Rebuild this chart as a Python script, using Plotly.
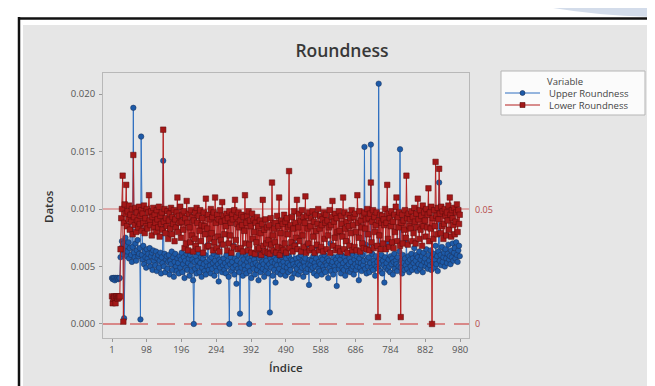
import plotly.graph_objects as go

# ---------------- data ----------------
title_text = "Roundness"
x_title = "Índice"
y_title = "Datos"
legend_title = "Variable"
series_names = ["Upper Roundness", "Lower Roundness"]

x_tick_vals = [1, 98, 196, 294, 392, 490, 588, 686, 784, 882, 980]
y_tick_vals = [0.000, 0.005, 0.010, 0.015, 0.020]
ref_values = [0.010, 0.0]
ref_labels = ["0.05", "0"]

indice = list(range(1, 981, 2))

# Upper Roundness, in units of 0.0001
upper_e4 = [
    40, 39, 40, 40, 38, 40, 39, 40, 40, 39, 40, 40, 58, 66, 72, 61, 70, 5, 64, 75,
    68, 59, 63, 71, 57, 66, 92, 60, 54, 67, 188, 62, 58, 70, 55, 64, 73, 59, 61, 66,
    4, 163, 60, 56, 68, 52, 63, 58, 49, 65, 57, 61, 54, 66, 50, 59, 62, 47, 64, 55,
    58, 51, 63, 46, 57, 60, 49, 55, 62, 44, 58, 53, 142, 50, 61, 45, 56, 59, 48, 54,
    60, 43, 55, 52, 63, 47, 58, 41, 54, 61, 50, 46, 57, 53, 44, 59, 49, 56, 62, 45,
    52, 58, 40, 55, 49, 61, 47, 53, 57, 42, 60, 51, 46, 56, 38, 0, 54, 48, 59, 44,
    55, 50, 62, 45, 53, 58, 41, 49, 57, 52, 46, 60, 43, 54, 50, 69, 47, 56, 51, 44,
    58, 48, 53, 61, 42, 55, 50, 46, 59, 52, 37, 56, 49, 54, 70, 45, 51, 57, 47, 53,
    44, 60, 50, 55, 41, 0, 52, 58, 46, 54, 49, 68, 43, 57, 51, 35, 55, 48, 60, 45,
    9, 53, 49, 58, 42, 56, 51, 47, 61, 44, 54, 50, 57, 0, 46, 55, 40, 59, 52, 48,
    56, 43, 53, 60, 47, 51, 38, 57, 50, 45, 62, 54, 48, 52, 41, 58, 46, 55, 50, 71,
    44, 52, 10, 57, 49, 54, 42, 59, 47, 53, 36, 56, 51, 45, 60, 48, 55, 43, 52, 58,
    46, 54, 50, 61, 42, 57, 49, 53, 45, 59, 51, 47, 56, 40, 55, 52, 70, 44, 50, 57,
    48, 53, 43, 58, 51, 46, 60, 49, 55, 41, 54, 50, 57, 45, 69, 48, 52, 34, 56, 51,
    47, 55, 49, 59, 44, 53, 50, 57, 42, 67, 48, 54, 46, 52, 58, 43, 56, 50, 47, 60,
    45, 53, 51, 57, 40, 55, 49, 70, 46, 52, 54, 43, 58, 50, 47, 56, 33, 53, 59, 48,
    51, 56, 44, 60, 49, 53, 47, 58, 42, 55, 50, 72, 46, 52, 57, 45, 54, 48, 61, 50,
    43, 56, 52, 47, 59, 50, 54, 38, 57, 49, 53, 46, 60, 51, 55, 154, 48, 69, 44, 56,
    50, 58, 45, 53, 156, 49, 61, 47, 55, 52, 42, 59, 50, 54, 48, 209, 57, 46, 53, 60,
    44, 55, 51, 36, 58, 49, 53, 70, 47, 56, 50, 45, 59, 52, 57, 43, 54, 61, 48, 55,
    52, 46, 58, 50, 63, 152, 49, 55, 44, 60, 53, 47, 57, 51, 71, 48, 54, 59, 45, 56,
    50, 61, 47, 57, 53, 66, 49, 55, 60, 46, 58, 52, 63, 48, 56, 51, 59, 45, 62, 54,
    57, 50, 65, 53, 48, 60, 55, 51, 64, 47, 58, 53, 61, 49, 56, 68, 52, 59, 46, 63,
    123, 55, 60, 51, 67, 54, 58, 62, 50, 65, 57, 53, 61, 69, 56, 59, 52, 64, 58, 70,
    55, 62, 66, 57, 71, 60, 54, 64, 68, 59,
]

# Lower Roundness, in units of 0.0001
lower_e4 = [
    24, 18, 22, 24, 23, 18, 24, 24, 22, 24, 23, 24, 65, 92, 100, 129, 2, 88, 104, 96,
    121, 85, 98, 91, 103, 82, 95, 89, 100, 78, 147, 93, 86, 101, 80, 97, 90, 84, 102, 87,
    94, 99, 81, 96, 88, 103, 79, 92, 85, 100, 83, 97, 112, 90, 86, 98, 77, 93, 101, 84,
    95, 88, 80, 99, 91, 84, 102, 76, 94, 87, 97, 82, 169, 89, 100, 79, 92, 85, 98, 74,
    90, 96, 83, 101, 78, 93, 87, 99, 72, 91, 84, 97, 110, 80, 94, 88, 102, 75, 89, 95,
    82, 98, 66, 92, 70, 107, 88, 64, 96, 84, 71, 99, 77, 93, 63, 90, 74, 97, 68, 101,
    88, 65, 94, 81, 99, 72, 86, 92, 62, 97, 85, 78, 109, 67, 83, 95, 68, 91, 74, 100,
    79, 93, 64, 97, 71, 110, 88, 66, 95, 76, 91, 63, 99, 73, 89, 106, 69, 94, 78, 90,
    85, 96, 64, 92, 70, 98, 77, 88, 62, 95, 91, 67, 99, 108, 73, 93, 87, 65, 97, 84,
    90, 66, 95, 86, 63, 93, 81, 112, 70, 88, 94, 64, 98, 69, 90, 85, 62, 96, 74, 91,
    80, 61, 88, 71, 93, 65, 85, 66, 90, 79, 60, 87, 108, 68, 82, 63, 91, 70, 84, 62,
    73, 86, 61, 92, 69, 123, 77, 64, 83, 71, 88, 62, 94, 67, 85, 110, 60, 79, 90, 66,
    87, 64, 95, 70, 89, 62, 92, 78, 84, 133, 66, 86, 71, 93, 63, 83, 98, 68, 88, 75,
    108, 65, 84, 96, 72, 90, 63, 99, 77, 93, 67, 88, 111, 62, 94, 83, 70, 97, 64, 85,
    92, 66, 98, 76, 89, 62, 95, 81, 69, 87, 100, 64, 83, 94, 67, 86, 91, 63, 97, 74,
    88, 95, 65, 90, 77, 84, 99, 62, 86, 93, 107, 68, 89, 75, 96, 64, 92, 80, 66, 98,
    81, 63, 94, 87, 76, 110, 65, 97, 83, 72, 89, 62, 95, 85, 68, 92, 79, 99, 64, 86,
    93, 67, 96, 80, 64, 112, 88, 75, 98, 63, 90, 84, 70, 94, 66, 97, 83, 91, 65, 100,
    78, 92, 64, 96, 123, 71, 89, 99, 66, 93, 80, 86, 97, 68, 6, 90, 77, 95, 65, 88,
    94, 70, 91, 86, 100, 65, 88, 121, 74, 96, 67, 92, 85, 98, 71, 89, 66, 95, 80, 102,
    110, 72, 93, 84, 97, 68, 6, 88, 95, 70, 90, 82, 99, 75, 129, 92, 69, 96, 85, 91,
    83, 98, 72, 93, 79, 101, 89, 70, 96, 84, 109, 91, 74, 99, 82, 94, 68, 103, 85, 97,
    90, 76, 100, 84, 95, 118, 72, 97, 83, 102, 0, 92, 74, 99, 85, 141, 94, 78, 101, 91,
    135, 96, 79, 102, 85, 98, 74, 87, 100, 94, 77, 97, 90, 103, 82, 110, 95, 76, 99, 92,
    86, 101, 78, 89, 97, 104, 80, 99, 87, 95,
]

assert len(upper_e4) == len(indice), len(upper_e4)
assert len(lower_e4) == len(indice), len(lower_e4)

upper = [v / 10000 for v in upper_e4]
lower = [v / 10000 for v in lower_e4]

# ---------------- layout helpers ----------------
W, H = 655, 386
L, R, T, B = 95, 461, 65, 330   # plot area in pixels


def px_x(p):
    return (p - L) / (R - L)


def px_y(p):
    return (B - p) / (B - T)


FONT = "Open Sans"
BLUE_LINE = "#2f6fc0"
BLUE_MARK = "#1d5aa8"
BLUE_EDGE = "#1b2f55"
RED_LINE = "#b41f1f"
RED_MARK = "#a31818"
RED_EDGE = "#5a0a0a"

fig = go.Figure()
fig.add_trace(go.Scatter(
    x=indice, y=upper, name=series_names[0], mode="lines+markers",
    line=dict(color=BLUE_LINE, width=1),
    marker=dict(symbol="circle", size=5.5, color=BLUE_MARK,
                line=dict(color=BLUE_EDGE, width=0.5)),
    showlegend=False,
))
fig.add_trace(go.Scatter(
    x=indice, y=lower, name=series_names[1], mode="lines+markers",
    line=dict(color=RED_LINE, width=1),
    marker=dict(symbol="square", size=5.5, color=RED_MARK,
                line=dict(color=RED_EDGE, width=0.5)),
    showlegend=False,
))

shapes = [
    # gray graph panel
    dict(type="rect", xref="paper", yref="paper", layer="below",
         x0=px_x(15), x1=px_x(653), y0=px_y(383), y1=px_y(17),
         fillcolor="#e6e6e6", line=dict(width=0)),
    # black screenshot border (left, top)
    dict(type="line", xref="paper", yref="paper", layer="above",
         x0=px_x(11), x1=px_x(11), y0=px_y(386), y1=px_y(9),
         line=dict(color="#111111", width=2.5)),
    dict(type="line", xref="paper", yref="paper", layer="above",
         x0=px_x(10), x1=px_x(655), y0=px_y(10.5), y1=px_y(10.5),
         line=dict(color="#111111", width=2.5)),
    # faint watermark in the top-right corner
    dict(type="path", xref="paper", yref="paper", layer="above",
         path="M {a},{b} L {c},{b} L {c},{d} Q {e},{f} {a},{b} Z".format(
             a=px_x(545), b=px_y(0), c=px_x(655), d=px_y(9), e=px_x(600), f=px_y(9)),
         fillcolor="#d3dcea", line=dict(width=0)),
    # legend box
    dict(type="rect", xref="paper", yref="paper", layer="below",
         x0=px_x(493), x1=px_x(637), y0=px_y(107), y1=px_y(63),
         fillcolor="#fbfbfb", line=dict(color="#b5b5b5", width=1)),
]
# reference lines
shapes.append(dict(type="line", xref="paper", yref="y", layer="below",
                   x0=0, x1=1, y0=ref_values[0], y1=ref_values[0],
                   line=dict(color="#d46a6a", width=1)))
shapes.append(dict(type="line", xref="paper", yref="y", layer="below",
                   x0=0, x1=1, y0=ref_values[1], y1=ref_values[1],
                   line=dict(color="#d46a6a", width=1.6, dash="18px,9px")))

annotations = [
    dict(text=y_title, xref="paper", yref="paper", x=px_x(40), y=px_y(199),
         textangle=-90, showarrow=False, xanchor="center", yanchor="middle",
         font=dict(family=FONT, size=11.5, color="#333333", weight=600)),
    dict(text=x_title, xref="paper", yref="paper", x=px_x(278), y=px_y(359),
         showarrow=False, xanchor="center", yanchor="middle",
         font=dict(family=FONT, size=11.5, color="#333333", weight=600)),
]
for v, lab in zip(ref_values, ref_labels):
    annotations.append(dict(text=lab, xref="paper", yref="y", x=px_x(465), y=v,
                            showarrow=False, xanchor="left", yanchor="middle",
                            font=dict(family=FONT, size=9, color="#b54848")))

# hand-built legend (Minitab style, compact)
LEG_FONT = dict(family=FONT, size=9.5, color="#444444")
annotations.append(dict(text=legend_title, xref="paper", yref="paper",
                        x=px_x(557), y=px_y(73), showarrow=False,
                        xanchor="center", yanchor="middle", font=LEG_FONT))
legend_rows = [
    (series_names[0], 85, BLUE_LINE, BLUE_MARK, BLUE_EDGE, "circle"),
    (series_names[1], 97, RED_LINE, RED_MARK, RED_EDGE, "rect"),
]
for name, yy, lc, mc, ec, sym in legend_rows:
    shapes.append(dict(type="line", xref="paper", yref="paper", layer="above",
                       x0=px_x(497), x1=px_x(532), y0=px_y(yy), y1=px_y(yy),
                       line=dict(color=lc, width=1)))
    shapes.append(dict(type=sym, xref="paper", yref="paper", layer="above",
                       x0=px_x(512), x1=px_x(517), y0=px_y(yy + 2.5), y1=px_y(yy - 2.5),
                       fillcolor=mc, line=dict(color=ec, width=0.6)))
    annotations.append(dict(text=name, xref="paper", yref="paper",
                            x=px_x(539), y=px_y(yy), showarrow=False,
                            xanchor="left", yanchor="middle", font=LEG_FONT))

axis_common = dict(showgrid=False, zeroline=False, showline=True, mirror=True,
                   linecolor="#b8b8b8", linewidth=1, ticks="outside", ticklen=3,
                   tickcolor="#999999",
                   tickfont=dict(family=FONT, size=9.5, color="#555555"))

fig.update_layout(
    width=W, height=H,
    margin=dict(l=L, r=W - R, t=T, b=H - B),
    paper_bgcolor="white", plot_bgcolor="white",
    title=dict(text=title_text, x=334 / W, xanchor="center", y=1 - 43 / H,
               yanchor="middle", yref="container",
               font=dict(family=FONT, size=17.5, color="#383838", weight=600)),
    xaxis=dict(range=[-24.3, 1005], tickvals=x_tick_vals, **axis_common),
    yaxis=dict(range=[-0.00122, 0.02183], tickvals=y_tick_vals, tickformat=".3f",
               ticklabelstandoff=2, **axis_common),
    showlegend=False,
    shapes=shapes,
    annotations=annotations,
)

fig.write_html("out.html")
